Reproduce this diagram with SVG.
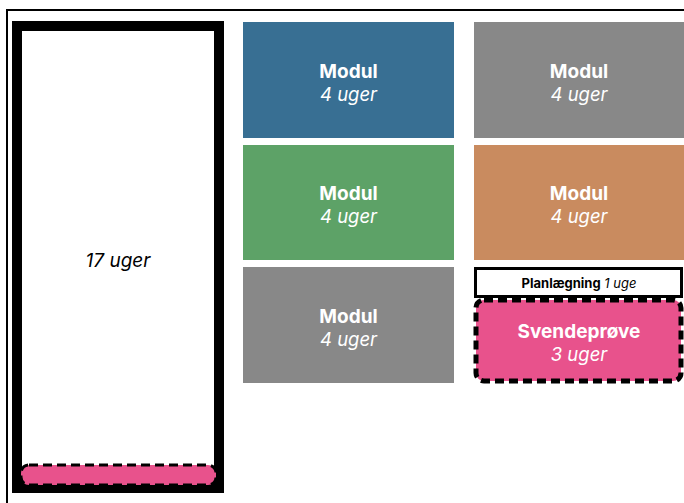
<svg xmlns="http://www.w3.org/2000/svg" width="684" height="503" viewBox="0 0 684 503">
<style>
.t{font-family:Inter,"Liberation Sans",sans-serif;text-anchor:middle;fill:#fff}
.b{font-weight:700;font-size:19px}
.i{font-style:italic;font-size:18.5px}
.dash{stroke:#000;stroke-dasharray:9 5}
</style>
<rect x="0" y="0" width="684" height="503" fill="#fff"/>
<rect x="7" y="10" width="720" height="540" fill="none" stroke="#000" stroke-width="2"/>
<g id="main">
<rect x="17" y="26" width="202" height="462" fill="#fff" stroke="#000" stroke-width="10"/>
<text x="118" y="267" class="t i" style="fill:#000;font-size:19px">17 uger</text>
</g>
<g id="main-bar">
<rect x="21" y="465" width="195" height="20" rx="8" fill="#E8528C" class="dash" stroke-width="3"/>
</g>
<g id="m1">
<rect x="243" y="22" width="211" height="116" fill="#386F93"/>
<text x="348.5" y="78" class="t b">Modul</text>
<text x="348.5" y="101" class="t i">4 uger</text>
</g>
<g id="m2">
<rect x="474" y="22" width="211" height="116" fill="#888888"/>
<text x="579" y="78" class="t b">Modul</text>
<text x="579" y="101" class="t i">4 uger</text>
</g>
<g id="m3">
<rect x="243" y="145" width="211" height="115" fill="#5DA267"/>
<text x="348.5" y="200" class="t b">Modul</text>
<text x="348.5" y="223" class="t i">4 uger</text>
</g>
<g id="m4">
<rect x="474" y="145" width="211" height="115" fill="#C98B5F"/>
<text x="579" y="200" class="t b">Modul</text>
<text x="579" y="223" class="t i">4 uger</text>
</g>
<g id="m5">
<rect x="243" y="267" width="211" height="116" fill="#888888"/>
<text x="348.5" y="323" class="t b">Modul</text>
<text x="348.5" y="346" class="t i">4 uger</text>
</g>
<g id="plan">
<rect x="475.5" y="268.5" width="206" height="28" fill="#fff" stroke="#000" stroke-width="3"/>
<text x="579" y="288" class="t" style="fill:#000;font-size:13px"><tspan font-weight="700">Planlægning</tspan> <tspan font-style="italic">1 uge</tspan></text>
</g>
<g id="svend">
<rect x="476" y="300" width="205" height="81" rx="8" fill="#E8528C" class="dash" stroke-width="5"/>
<text x="579" y="338" class="t b">Svendeprøve</text>
<text x="579" y="361" class="t i">3 uger</text>
</g>
<g id="connectors"></g>
</svg>
